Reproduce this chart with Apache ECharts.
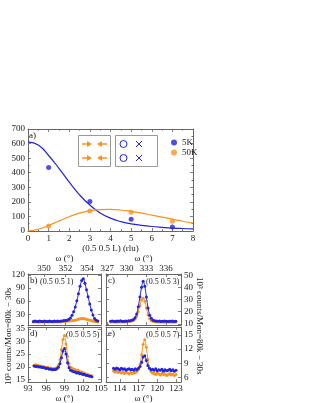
<!DOCTYPE html>
<html><head><meta charset="utf-8">
<script src="https://cdn.jsdelivr.net/npm/echarts@6/dist/echarts.min.js"></script>
<style>html,body{margin:0;padding:0;background:#fff}#c{width:312px;height:403px}</style>
</head><body><div id="c"></div><script>
// ---------- panel a data ----------
const fitL = [0,0.5,1,1.5,2,2.5,3,3.5,4,4.5,5,5.5,6,6.5,7,7.5,8];
const fit5K = [612,590,518,430,335,248,178,124,88,64,49,39,31,25,20,17,15];
const fit50K = [0,12,38,68,98,123,139,147,148,144,135,123,109,95,81,67,54];
const pointL = [1,3,5,7];
const int5K = [435,203,80,28];
const int50K = [35,137,128,67];
// ---------- panel b (0.5 0.5 1) ----------
const omegaB = [349.00,349.15,349.30,349.45,349.60,349.75,349.90,350.05,350.20,350.35,350.50,350.65,350.80,350.95,351.10,351.25,351.40,351.55,351.70,351.85,352.00,352.15,352.30,352.45,352.60,352.75,352.90,353.05,353.20,353.35,353.50,353.65,353.80,353.95,354.10,354.25,354.40,354.55,354.70,354.85,355.00];
const b5K = [14,15,14,14,15,14,14,15,14,14,15,14,14,15,14,15,14,15,15,16,16,17,19,22,28,36,47,61,77,94,107,111,101,86,70,54,40,29,21,17,15];
const b50K = [13,13,14,13,13,14,13,13,14,13,13,14,13,13,14,13,14,13,14,14,14,15,15,15,16,16,17,18,19,20,21,21,20,19,18,17,16,15,14,14,13];
const ticksB_x = [350,352,354];
const ticksB_y = [30,60,90,120];
// ---------- panel c (0.5 0.5 3) ----------
const omegaC = [327.50,327.75,328.00,328.25,328.50,328.75,329.00,329.25,329.50,329.75,330.00,330.25,330.50,330.75,331.00,331.25,331.50,331.75,332.00,332.25,332.50,332.75,333.00,333.25,333.50,333.75,334.00,334.25,334.50,334.75,335.00,335.25,335.50,335.75,336.00,336.25,336.50,336.75,337.00,337.25,337.50];
const c5K = [12,12.3,12,11.8,12.2,12,12.4,12,11.9,12.2,12.1,12.5,12.6,13,13.5,15,18,24,32,40,45,41,32,23,17,14.5,13,12.5,12.3,12,12.2,11.9,12.1,12.3,12,11.8,12.1,12,12.2,11.9,12];
const c50K = [11.5,11.7,11.4,11.6,11.3,11.6,11.5,11.4,11.7,11.5,11.6,11.8,12,12.3,12.8,14,16,20,25,29.5,31,28.5,23,17.5,14,12.5,12,11.7,11.5,11.6,11.4,11.5,11.7,11.3,11.5,11.6,11.4,11.5,11.3,11.5,11.4];
const ticksC_x = [327,330,333,336];
const ticksC_y = [10,20,30,40,50];
// ---------- panel d (0.5 0.5 5) ----------
const omegaD = [94.00,94.25,94.50,94.75,95.00,95.25,95.50,95.75,96.00,96.25,96.50,96.75,97.00,97.25,97.50,97.75,98.00,98.25,98.50,98.75,99.00,99.25,99.50,99.75,100.00,100.25,100.50,100.75,101.00,101.25,101.50,101.75,102.00,102.25,102.50,102.75,103.00,103.25,103.50];
const d5K = [20.3,20.1,20.2,19.9,20.0,19.7,19.8,19.5,19.3,19.4,19.0,19.1,18.8,18.9,18.9,19.2,19.8,21.2,23.6,26.2,27.2,25.0,21.6,19.6,18.6,18.3,18.0,17.9,17.6,17.7,17.3,17.4,17.0,17.1,16.7,16.6,16.4,16.3,16.1];
const d50K = [20.6,20.8,20.4,20.5,20.2,20.3,19.9,20.0,19.7,19.8,19.4,19.5,19.2,19.3,19.4,19.7,20.6,22.8,26.8,30.8,32.3,29.0,24.2,21.2,19.8,19.4,19.0,18.9,18.5,18.6,18.1,17.9,17.7,17.6,17.2,17.1,16.8,16.6,16.4];
const ticksD_x = [93,96,99,102,105];
const ticksD_y = [15,20,25,30,35];
// ---------- panel e (0.5 0.5 7) ----------
const omegaE = [113.00,113.25,113.50,113.75,114.00,114.25,114.50,114.75,115.00,115.25,115.50,115.75,116.00,116.25,116.50,116.75,117.00,117.25,117.50,117.75,118.00,118.25,118.50,118.75,119.00,119.25,119.50,119.75,120.00,120.25,120.50,120.75,121.00,121.25,121.50,121.75,122.00,122.25,122.50,122.75,123.00];
const e5K = [7.9,7.7,8.0,7.8,7.6,7.9,7.7,7.8,7.5,7.7,7.8,7.6,7.7,7.5,7.8,7.6,7.9,8.3,9.2,10.3,10.6,9.6,8.5,7.9,7.6,7.7,7.5,7.8,7.4,7.6,7.5,7.7,7.3,7.6,7.4,7.5,7.7,7.4,7.6,7.3,7.5];
const e50K = [7.4,7.1,7.3,7.0,7.2,6.9,7.1,6.8,7.0,6.9,6.7,7.0,6.8,6.9,7.0,7.2,7.7,8.8,10.8,13.0,14.0,12.4,9.8,8.0,7.2,6.9,6.8,6.6,6.9,6.7,6.5,6.8,6.6,6.7,6.4,6.6,6.8,6.5,6.7,6.4,6.6];
const ticksE_x = [114,117,120,123];
const ticksE_y = [6,9,12,15];

const FONT = 'Liberation Serif';
const BLUE = '#2323dc';
const ORANGE = '#f7931e';
const AXC = '#666';
const TXT = '#1a1a1a';

const zip = (a,b) => a.map((v,i)=>[v,b[i]]);
const xAxes = [], yAxes = [], series = [];

function axis(gi, pos, min, max, vals, interval, showLabel, name, nameGap, margin) {
  const o = {
    type:'value', gridIndex:gi, position:pos, min:min, max:max,
    axisLine:{show:true, onZero:false, lineStyle:{color:AXC, width:1}},
    axisTick:{show:true, inside:true, length:3, lineStyle:{color:AXC, width:0.8}},
    axisLabel:{show:showLabel, fontFamily:FONT, fontSize:9, color:TXT, margin:(margin==null?3:margin)},
    splitLine:{show:false}
  };
  if (interval) { o.interval = interval; o.minorTick = {show:true, splitNumber:2, length:1.5, lineStyle:{color:AXC}}; }
  if (vals) { o.axisTick.customValues = vals; o.axisLabel.customValues = vals; }
  if (name) { o.name = name; o.nameLocation='middle'; o.nameGap=nameGap; o.nameTextStyle={fontFamily:FONT,fontSize:9,color:TXT}; }
  return o;
}

function panel(gi, xr, xv, xPos, yr, yv, yPos, xName, xGap, xInt, yInt, xMargin) {
  const xi = xAxes.length;
  xAxes.push(axis(gi, xPos, xr[0], xr[1], xv, xInt, true, xName, xGap, xMargin));
  xAxes.push(axis(gi, xPos==='top'?'bottom':'top', xr[0], xr[1], xv, xInt, false));
  const yi = yAxes.length;
  yAxes.push(axis(gi, yPos, yr[0], yr[1], yv, yInt, true));
  yAxes.push(axis(gi, yPos==='left'?'right':'left', yr[0], yr[1], yv, yInt, false));
  return {xi, yi};
}

const G = {outerBoundsMode:'none', containLabel:false};
const grids = [
  Object.assign({left:28, top:129, width:165, height:102}, G),
  Object.assign({left:28, top:274, width:73, height:51}, G),
  Object.assign({left:106, top:274, width:75, height:51}, G),
  Object.assign({left:28, top:327, width:73, height:55}, G),
  Object.assign({left:106, top:327, width:75, height:55}, G)
];

// panel a
const pa = panel(0, [0,8], null, 'bottom', [0,700], null, 'left', '(0.5 0.5 L) (rlu)', 11, 1, 100);
yAxes[pa.yi].name = 'Int. Intens. (a.u.)';
yAxes[pa.yi].nameLocation = 'middle';
yAxes[pa.yi].nameGap = 19;
yAxes[pa.yi].nameTextStyle = {fontFamily:FONT,fontSize:9,color:TXT};
series.push({type:'line', name:'fit5K', xAxisIndex:pa.xi, yAxisIndex:pa.yi, data:zip(fitL,fit5K), smooth:true, showSymbol:false, lineStyle:{color:BLUE,width:1.2}, z:2, silent:true});
series.push({type:'line', name:'fit50K', xAxisIndex:pa.xi, yAxisIndex:pa.yi, data:zip(fitL,fit50K), smooth:true, showSymbol:false, lineStyle:{color:ORANGE,width:1.2}, z:2, silent:true});
series.push({type:'scatter', name:'5K', xAxisIndex:pa.xi, yAxisIndex:pa.yi, data:zip(pointL,int5K), symbolSize:5, itemStyle:{color:BLUE}, z:3});
series.push({type:'scatter', name:'50K', xAxisIndex:pa.xi, yAxisIndex:pa.yi, data:zip(pointL,int50K), symbolSize:5, itemStyle:{color:ORANGE}, z:3});

function scanSeries(p, xs, y5, y50) {
  series.push({type:'line', xAxisIndex:p.xi, yAxisIndex:p.yi, data:zip(xs,y50), smooth:0.3, symbol:'circle', symbolSize:3, lineStyle:{color:ORANGE,width:1}, itemStyle:{color:ORANGE}, z:2, silent:true});
  series.push({type:'line', xAxisIndex:p.xi, yAxisIndex:p.yi, data:zip(xs,y5), smooth:0.3, symbol:'circle', symbolSize:3, lineStyle:{color:BLUE,width:1}, itemStyle:{color:BLUE}, z:3, silent:true});
}
const pb = panel(1, [348.5,355.3], ticksB_x, 'top', [6,122], ticksB_y, 'left', 'ω (°)', 10, null, null, 1);
scanSeries(pb, omegaB, b5K, b50K);
const pc = panel(2, [326.8,338.3], ticksC_x, 'top', [9,51], ticksC_y, 'right', 'ω (°)', 10, null, null, 1);
scanSeries(pc, omegaC, c5K, c50K);
const pd = panel(3, [93,105], ticksD_x, 'bottom', [14,35.7], ticksD_y, 'left', 'ω (°)', 10, null, null, 2);
scanSeries(pd, omegaD, d5K, d50K);
const pe = panel(4, [111.8,123.8], ticksE_x, 'bottom', [5,16.7], ticksE_y, 'right', 'ω (°)', 10, null, null, 2);
scanSeries(pe, omegaE, e5K, e50K);

const txt = (x,y,s,extra,fs) => Object.assign({type:'text', x:x, y:y, style:{text:s, fontFamily:FONT, fontSize:fs||9, fill:TXT}}, extra||{});
function arrowR(x,y){ return [
  {type:'line', shape:{x1:x, y1:y, x2:x+6, y2:y}, style:{stroke:ORANGE, lineWidth:1.5}},
  {type:'polygon', shape:{points:[[x+5,y-3],[x+10,y],[x+5,y+3]]}, style:{fill:ORANGE}}
];}
function arrowL(x,y){ return [
  {type:'polygon', shape:{points:[[x+5,y-3],[x,y],[x+5,y+3]]}, style:{fill:ORANGE}},
  {type:'line', shape:{x1:x+4, y1:y, x2:x+10, y2:y}, style:{stroke:ORANGE, lineWidth:1.5}}
];}
function cross(x,y){ return [
  {type:'line', shape:{x1:x-3, y1:y-3, x2:x+3, y2:y+3}, style:{stroke:BLUE, lineWidth:1}},
  {type:'line', shape:{x1:x-3, y1:y+3, x2:x+3, y2:y-3}, style:{stroke:BLUE, lineWidth:1}}
];}
const graphic = [
  txt(29,131,'a)'),
  {type:'rect', shape:{x:78.5,y:135.5,width:32,height:31}, style:{fill:'#fff', stroke:'#999', lineWidth:1}, z:10},
  {type:'rect', shape:{x:115.5,y:135.5,width:42,height:31}, style:{fill:'#fff', stroke:'#999', lineWidth:1}, z:10},
  ...[...arrowR(82,144),...arrowL(97,144),...arrowR(82,158),...arrowL(97,158)].map(e=>Object.assign(e,{z:11})),
  {type:'circle', shape:{cx:123.5,cy:144,r:3.5}, style:{fill:'none', stroke:BLUE, lineWidth:1}, z:11},
  {type:'circle', shape:{cx:123.5,cy:158,r:3.5}, style:{fill:'none', stroke:BLUE, lineWidth:1}, z:11},
  ...[...cross(139,144),...cross(139,158)].map(e=>Object.assign(e,{z:11})),
  txt(30,276,'b)'), txt(40,278,'(0.5 0.5 1)',null,8),
  txt(108,276,'c)'), txt(146,278,'(0.5 0.5 3)',null,8),
  txt(30,329,'d)'), txt(66,331,'(0.5 0.5 5)',null,8),
  txt(108,329,'e)'), txt(146,331,'(0.5 0.5 7)',null,8),
  txt(4,385,'10³ counts/Mon=80k − 30s',{rotation:Math.PI/2}),
  txt(204,277,'10³ counts/Mon=80k − 30s',{rotation:-Math.PI/2})
];

const chart = echarts.init(document.getElementById('c'), null, {renderer:'canvas'});
chart.setOption({
  animation:false,
  backgroundColor:'#fff',
  grid:grids,
  xAxis:xAxes,
  yAxis:yAxes,
  legend:{data:['5K','50K'], left:166, top:133, orient:'vertical', itemWidth:6, itemHeight:6, itemGap:1, icon:'circle', textStyle:{fontFamily:FONT, fontSize:9, color:TXT}},
  series:series,
  graphic:graphic
});
</script></body></html>
